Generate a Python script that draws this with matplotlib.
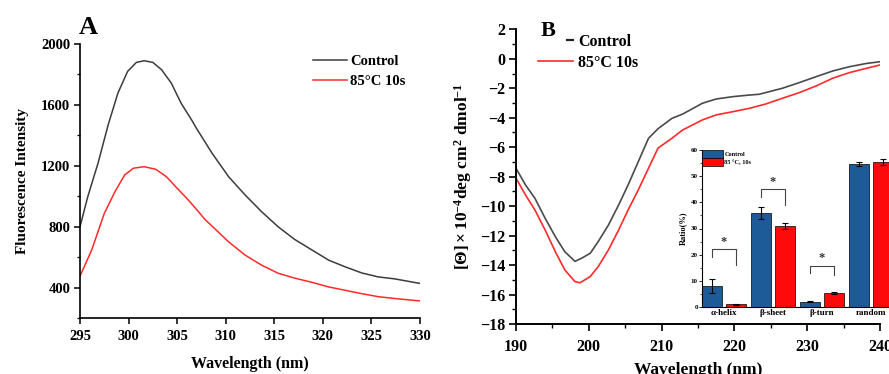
import numpy as np
import matplotlib
matplotlib.use('Agg')
import matplotlib.pyplot as plt
from matplotlib.ticker import MultipleLocator

plt.rcParams['font.family'] = ['Liberation Serif', 'DejaVu Serif']
plt.rcParams['font.weight'] = 'bold'
plt.rcParams['mathtext.fontset'] = 'custom'
plt.rcParams['mathtext.rm'] = 'Liberation Serif:bold'
plt.rcParams['mathtext.bf'] = 'Liberation Serif:bold'
plt.rcParams['mathtext.it'] = 'Liberation Serif:italic:bold'
plt.rcParams['mathtext.default'] = 'bf'

# ---------------- Panel A: fluorescence ----------------
fl_wl_ctrl = [295.0, 295.8, 296.85, 297.9, 298.9, 299.9, 300.8, 301.6, 302.5, 303.4,
              304.4, 305.4, 306.5, 307.0, 308.6, 310.3, 312.0, 313.7, 315.4, 317.1,
              318.9, 320.6, 322.3, 324.0, 325.7, 327.4, 330.0]
fl_ctrl = [800, 997, 1216, 1469, 1677, 1820, 1879, 1890, 1879, 1831,
           1743, 1612, 1500, 1445, 1282, 1128, 1008, 898, 799, 716,
           646, 580, 536, 496, 470, 457, 427]
fl_wl_heat = [295.0, 296.2, 297.5, 298.6, 299.6, 300.5, 301.6, 302.8, 303.9, 305.0,
              306.0, 306.9, 307.9, 308.9, 310.3, 312.0, 313.7, 315.4, 317.1, 318.9,
              320.6, 322.3, 324.0, 325.7, 327.4, 330.0]
fl_heat = [475, 646, 887, 1030, 1140, 1184, 1194, 1177, 1128, 1052,
           986, 920, 845, 785, 700, 613, 547, 494, 462, 434,
           404, 382, 360, 340, 328, 312]

# ---------------- Panel B: CD spectra ----------------
cd_wl_ctrl = [190.0, 191.3, 192.6, 194.0, 195.4, 196.7, 198.1, 199.0, 200.2, 201.3,
              202.7, 204.1, 205.4, 206.8, 208.2, 209.5, 211.4, 212.9, 215.6, 217.5,
              219.8, 222.1, 223.4, 226.6, 228.9, 231.2, 233.5, 235.8, 238.1, 240.0]
cd_ctrl = [-7.43, -8.56, -9.47, -10.82, -12.07, -13.09, -13.75, -13.54, -13.2, -12.4,
           -11.28, -9.92, -8.56, -6.98, -5.4, -4.75, -4.05, -3.75, -3.02, -2.73,
           -2.57, -2.46, -2.41, -2.0, -1.62, -1.22, -0.83, -0.54, -0.32, -0.2]
cd_wl_heat = [190.0, 191.3, 192.6, 194.0, 195.4, 196.7, 198.1, 198.8, 200.2, 201.3,
              202.7, 204.1, 205.4, 206.8, 208.2, 209.5, 211.4, 212.9, 215.6, 217.5,
              219.8, 222.1, 224.3, 226.6, 228.9, 231.2, 233.5, 235.8, 238.1, 240.0]
cd_heat = [-8.1, -9.24, -10.26, -11.62, -13.09, -14.33, -15.12, -15.2, -14.78, -14.1,
           -12.97, -11.62, -10.26, -8.9, -7.43, -6.07, -5.4, -4.83, -4.15, -3.81,
           -3.59, -3.36, -3.07, -2.68, -2.3, -1.85, -1.32, -0.94, -0.65, -0.42]

# ---------------- Inset: secondary structure ----------------
ss_cats = ['α-helix', 'β-sheet', 'β-turn', 'random']
ss_ctrl = [8.0, 36.0, 2.1, 54.7]
ss_ctrl_err = [2.7, 2.3, 0.3, 0.8]
ss_heat = [1.0, 31.0, 5.4, 55.4]
ss_heat_err = [0.2, 1.0, 0.4, 1.2]
sig_idx = [0, 1, 2]
sig_top = [22.2, 45.1, 15.8]
sig_left_end = [19.1, 42.0, 13.0]
sig_right_end = [16.0, 39.0, 12.2]

labels = ['Control', '85\u00b0C 10s']
ctrl_color = '#3c3c3c'
heat_color = '#ff2a2a'
bar_blue = '#1d5b98'
bar_red = '#ff0a0a'

W, H = 889, 374
fig = plt.figure(figsize=(W / 100, H / 100), dpi=100)


def px(l, t, r, b):
    return [l / W, 1 - b / H, (r - l) / W, (b - t) / H]


# ---- Panel A ----
axA = fig.add_axes(px(80, 44, 420, 318))
axA.plot(fl_wl_ctrl, fl_ctrl, color=ctrl_color, lw=1.1, label=labels[0])
axA.plot(fl_wl_heat, fl_heat, color=heat_color, lw=1.1, label=labels[1])
axA.set_xlim(295, 330)
axA.set_ylim(200, 2000)
axA.xaxis.set_major_locator(MultipleLocator(5))
axA.yaxis.set_major_locator(MultipleLocator(400))
axA.yaxis.set_minor_locator(MultipleLocator(200))
for s in ['top', 'right']:
    axA.spines[s].set_visible(False)
for s in ['left', 'bottom']:
    axA.spines[s].set_linewidth(1.2)
axA.tick_params(axis='both', which='major', direction='out', length=4, width=1.1,
                labelsize=10.5, pad=3)
axA.tick_params(axis='x', which='major', pad=5)
axA.tick_params(axis='y', which='minor', direction='out', length=2.5, width=0.9)
for t in axA.get_xticklabels() + axA.get_yticklabels():
    t.set_fontweight('bold')
axA.set_xlabel('Wavelength (nm)', fontsize=11.5, fontweight='bold', labelpad=9)
axA.set_ylabel('Fluorescence Intensity', fontsize=11, fontweight='bold', labelpad=9)
legA = axA.legend(loc='upper left', bbox_to_anchor=(313 / W, 1 - 55 / H),
                  bbox_transform=fig.transFigure, frameon=False, fontsize=10.5,
                  handlelength=2.3, handletextpad=0.25, labelspacing=0.45,
                  borderpad=0, borderaxespad=0)
for t in legA.get_texts():
    t.set_fontweight('bold')
fig.text(79 / W, 1 - 34 / H, 'A', fontsize=19, fontweight='bold', ha='left', va='baseline')

# ---- Panel B ----
axB = fig.add_axes(px(516, 29.3, 880, 324))
axB.plot(cd_wl_ctrl, cd_ctrl, color='#4a4a4a', lw=1.2, label=labels[0])
axB.plot(cd_wl_heat, cd_heat, color=heat_color, lw=1.2, label=labels[1])
axB.set_xlim(190, 240)
axB.set_ylim(-18, 2)
axB.xaxis.set_major_locator(MultipleLocator(10))
axB.xaxis.set_minor_locator(MultipleLocator(5))
axB.yaxis.set_major_locator(MultipleLocator(2))
axB.yaxis.set_minor_locator(MultipleLocator(1))
for s in ['top', 'right']:
    axB.spines[s].set_visible(False)
for s in ['left', 'bottom']:
    axB.spines[s].set_linewidth(1.4)
axB.tick_params(axis='both', which='major', direction='out', length=5, width=1.2,
                labelsize=11.5, pad=3)
axB.tick_params(axis='x', which='major', pad=6)
axB.tick_params(axis='both', which='minor', direction='out', length=3, width=1.0)
for t in axB.get_xticklabels() + axB.get_yticklabels():
    t.set_fontweight('bold')
axB.set_xlabel('Wavelength (nm)', fontsize=12.5, fontweight='bold', labelpad=5)
axB.set_ylabel(r'$\mathbf{[\Theta]\times10^{-4}deg\ cm^{2}\ dmol^{-1}}$', fontsize=12.5,
               fontweight='bold', labelpad=4)
legB = axB.legend(loc='upper left', bbox_to_anchor=(538 / W, 1 - 34 / H),
                  bbox_transform=fig.transFigure, frameon=False, fontsize=11.5,
                  handlelength=2.2, handletextpad=0.3, labelspacing=0.3,
                  borderpad=0, borderaxespad=0)
for t in legB.get_texts():
    t.set_fontweight('bold')
ln0 = legB.get_lines()[0]
xd = np.asarray(ln0.get_xdata(), dtype=float)
yd = np.asarray(ln0.get_ydata(), dtype=float)
ln0.set_xdata([xd[-1] - 0.17 * (xd[-1] - xd[0]), xd[-1]])
ln0.set_ydata([yd[0], yd[-1]])
ln0.set_linewidth(1.6)
ln0.set_color('#222222')
fig.text(541 / W, 1 - 36 / H, 'B', fontsize=16, fontweight='bold', ha='left', va='baseline')

# ---- Inset ----
axI = fig.add_axes(px(702, 150, 893, 307))
axI.set_facecolor('none')
x = np.arange(len(ss_cats))
bw = 0.41
off = 0.25
axI.bar(x - off, ss_ctrl, bw, color=bar_blue, edgecolor='black', linewidth=0.5,
        yerr=ss_ctrl_err, error_kw=dict(ecolor='black', elinewidth=0.8, capsize=2, capthick=0.8),
        label='Control')
axI.bar(x + off, ss_heat, bw, color=bar_red, edgecolor='black', linewidth=0.5,
        yerr=ss_heat_err, error_kw=dict(ecolor='black', elinewidth=0.8, capsize=2, capthick=0.8),
        label='85 \u00b0C, 10s')
for i, top, le, re in zip(sig_idx, sig_top, sig_left_end, sig_right_end):
    axI.plot([i - off, i - off, i + off, i + off], [le, top, top, re], color='#444444', lw=0.8)
    axI.text(i, top + 0.5, '*', ha='center', va='bottom', fontsize=9, fontweight='bold',
             color='#333333')
axI.set_xlim(-0.45, 3.45)
axI.set_ylim(0, 60)
axI.set_xticks(x)
axI.set_xticklabels(ss_cats)
axI.yaxis.set_major_locator(MultipleLocator(10))
axI.yaxis.set_minor_locator(MultipleLocator(5))
for s in ['top', 'right']:
    axI.spines[s].set_visible(False)
for s in ['left', 'bottom']:
    axI.spines[s].set_linewidth(0.8)
axI.tick_params(axis='x', length=0, labelsize=6.5, pad=1.5)
axI.tick_params(axis='y', which='major', length=2, width=0.6, labelsize=5, pad=1)
axI.tick_params(axis='y', which='minor', length=1.2, width=0.5)
for t in axI.get_xticklabels() + axI.get_yticklabels():
    t.set_fontweight('bold')
axI.set_ylabel('Ratio(%)', fontsize=6, fontweight='bold', labelpad=3)
legI = axI.legend(loc='upper left', bbox_to_anchor=(0.0, 1.0), frameon=False, fontsize=4.5,
                  handlelength=3.4, handleheight=1.5, handletextpad=0.2, labelspacing=0.1,
                  borderpad=0, borderaxespad=0)
for t in legI.get_texts():
    t.set_fontweight('bold')

fig.savefig('out.png', dpi=100)
